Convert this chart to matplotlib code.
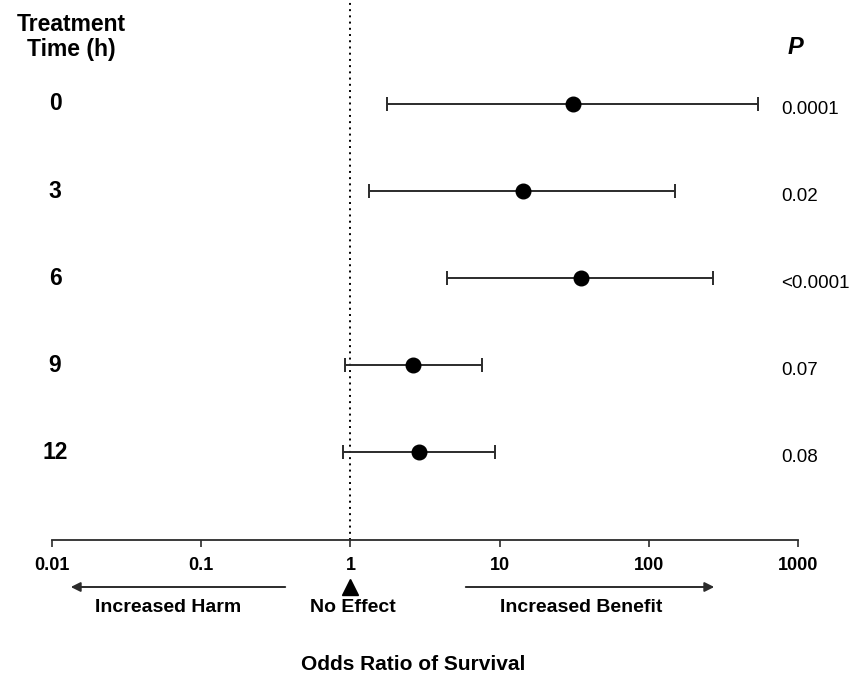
import matplotlib.pyplot as plt
import matplotlib.transforms as mtransforms
import numpy as np

plt.rcParams["font.family"] = ["Liberation Sans", "DejaVu Sans"]

# values
times = ["0", "3", "6", "9", "12"]
odds = [31.0, 14.4, 35.0, 2.63, 2.88]
ci_low = [1.76, 1.33, 4.44, 0.92, 0.89]
ci_high = [540.0, 150.0, 270.0, 7.6, 9.3]
p_values = ["0.0001", "0.02", "<0.0001", "0.07", "0.08"]
tick_vals = [0.01, 0.1, 1, 10, 100, 1000]
tick_labels = ["0.01", "0.1", "1", "10", "100", "1000"]

fig = plt.figure(figsize=(8.54, 6.75), dpi=100)
ax = fig.add_axes([52 / 854, 1 - 540 / 675, 746 / 854, 540 / 675])

y = np.arange(len(times))
odds = np.array(odds)
err = np.vstack([odds - np.array(ci_low), np.array(ci_high) - odds])
ax.errorbar(odds, y, xerr=err, fmt="o", color="black", ecolor="#2b2b2b",
            elinewidth=1.4, capsize=5, capthick=1.4, markersize=10.5)

ax.axvline(1, color="black", linestyle=(0, (1, 2.2)), linewidth=1.4, zorder=0)

ax.set_xscale("log")
ax.set_xlim(0.01, 1000)
ax.set_ylim(5.01, -1.195)
ax.set_xticks(tick_vals)
ax.set_xticklabels(tick_labels, fontsize=13, fontweight="bold")
ax.minorticks_off()
ax.tick_params(axis="x", direction="out", length=5, width=1.2, pad=7,
               color="#2b2b2b")
ax.set_yticks([])
for side in ["left", "right", "top"]:
    ax.spines[side].set_visible(False)
ax.spines["bottom"].set_linewidth(1.3)
ax.spines["bottom"].set_color("#2b2b2b")

# row labels on the left, p values on the right (x in figure pixels, y in data)
row_tr = mtransforms.blended_transform_factory(fig.dpi_scale_trans, ax.transData)
for yi, t, p in zip(y, times, p_values):
    ax.text(55 / 100, yi, t, transform=row_tr, fontsize=16.5,
            fontweight="bold", ha="center", va="center")
    ax.text(781 / 100, yi + 0.06, p, transform=row_tr, fontsize=13.5,
            ha="left", va="center")

fig.text(71 / 854, 1 - 37 / 675, "Treatment\nTime (h)", fontsize=16.5,
         fontweight="bold", ha="center", va="center", linespacing=1.1)
fig.text(795 / 854, 1 - 48 / 675, "P", fontsize=17, fontweight="bold",
         fontstyle="italic", ha="center", va="center")

# direction arrows and labels under the axis
arrow_y = 675 - 587
arrow_kw = dict(arrowstyle="-|>", color="#2b2b2b", lw=1.4, mutation_scale=14)
fig.add_artist(plt.Annotation("", xy=(68, arrow_y), xytext=(288, arrow_y),
                              xycoords="figure pixels",
                              textcoords="figure pixels",
                              arrowprops=arrow_kw))
fig.add_artist(plt.Annotation("", xy=(717, arrow_y), xytext=(463, arrow_y),
                              xycoords="figure pixels",
                              textcoords="figure pixels",
                              arrowprops=arrow_kw))
ax.plot([1], [-47 / 540], marker="^", color="black", markersize=11,
        transform=ax.get_xaxis_transform(), clip_on=False)

text_y = 1 - 607 / 675
fig.text(168 / 854, text_y, "Increased Harm", fontsize=14, fontweight="bold",
         ha="center", va="center")
fig.text(353 / 854, text_y, "No Effect", fontsize=14, fontweight="bold",
         ha="center", va="center")
fig.text(581 / 854, text_y, "Increased Benefit", fontsize=14,
         fontweight="bold", ha="center", va="center")

fig.text(413 / 854, 1 - 664 / 675, "Odds Ratio of Survival", fontsize=15,
         fontweight="bold", ha="center", va="center")

fig.savefig("out.png", dpi=100)
